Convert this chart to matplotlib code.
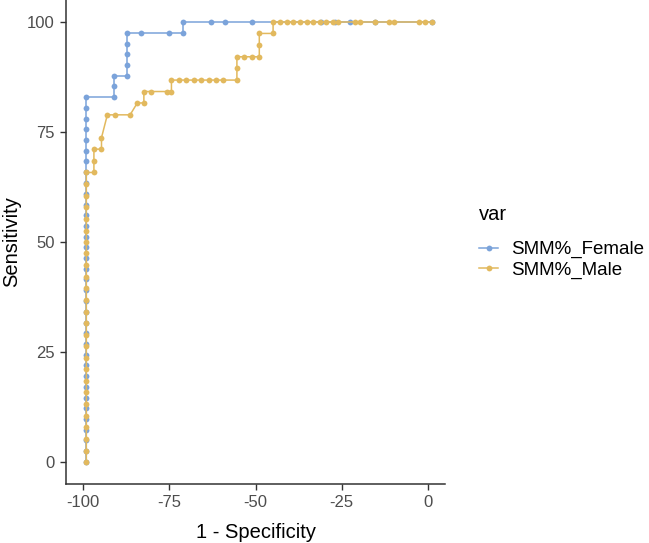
import matplotlib
matplotlib.use("Agg")
import matplotlib.pyplot as plt

plt.rcParams['font.family'] = ['Liberation Sans', 'DejaVu Sans']
plt.rcParams['axes.unicode_minus'] = False

# ROC points (x = 1 - specificity as drawn, y = sensitivity)
female_x = [-99.1, -99.1, -99.1, -99.1, -99.1, -99.1, -99.1, -99.1, -99.1, -99.1,
            -99.1, -99.1, -99.1, -99.1, -99.1, -99.1, -99.1, -99.1, -99.1, -99.1,
            -99.1, -99.1, -99.1, -99.1, -99.1, -99.1, -99.1, -99.1, -99.1, -99.1,
            -99.1, -99.1, -99.1, -99.1, -99.1,
            -91.0, -91.0, -91.0, -87.3, -87.3, -87.3, -87.3, -87.3,
            -83.1, -75.0, -70.9, -70.9, -63.0, -59.0, -51.0,
            -31.1, -26.8, -22.7, -15.3, 1.1]
female_y = [0.0, 2.4, 4.9, 7.3, 9.8, 12.2, 14.6, 17.1, 19.5, 22.0,
            24.4, 26.8, 29.3, 31.7, 34.1, 36.6, 39.0, 41.5, 43.9, 46.3,
            48.8, 51.2, 53.7, 56.1, 58.5, 61.0, 63.4, 65.9, 68.3, 70.7,
            73.2, 75.6, 78.0, 80.5, 82.9,
            82.9, 85.4, 87.8, 87.8, 90.2, 92.7, 95.1, 97.6,
            97.6, 97.6, 97.6, 100.0, 100.0, 100.0, 100.0,
            100.0, 100.0, 100.0, 100.0, 100.0]

male_x = [-99.1, -99.1, -99.1, -99.1, -99.1, -99.1, -99.1, -99.1, -99.1, -99.1,
          -99.1, -99.1, -99.1, -99.1, -99.1, -99.1, -99.1, -99.1, -99.1, -99.1,
          -99.1, -99.1, -99.1, -99.1, -99.1, -99.1,
          -96.9, -96.9, -96.9, -94.7, -94.7, -93.0, -90.7, -86.4,
          -84.3, -82.4, -82.4, -80.3, -75.8, -74.4, -74.4,
          -72.3, -70.1, -67.9, -65.7, -63.6, -61.6, -59.5, -55.4,
          -55.4, -55.4, -53.2, -51.0, -48.9, -48.9, -48.9, -44.9, -44.9,
          -42.8, -40.9, -39.0, -37.1, -35.2, -33.2, -31.3, -29.4, -27.5,
          -26.1, -21.0, -19.6, -15.3, -11.4, -9.8, -2.5, -0.7, 1.1]
male_y = [0.0, 2.6, 5.3, 7.9, 10.5, 13.2, 15.8, 18.4, 21.1, 23.7,
          26.3, 28.9, 31.6, 34.2, 36.8, 39.5, 42.1, 44.7, 47.4, 50.0,
          52.6, 55.3, 57.9, 60.5, 63.2, 65.8,
          65.8, 68.4, 71.1, 71.1, 73.7, 78.9, 78.9, 78.9,
          81.6, 81.6, 84.2, 84.2, 84.2, 84.2, 86.8,
          86.8, 86.8, 86.8, 86.8, 86.8, 86.8, 86.8, 86.8,
          89.5, 92.1, 92.1, 92.1, 92.1, 94.7, 97.4, 97.4, 100.0,
          100.0, 100.0, 100.0, 100.0, 100.0, 100.0, 100.0, 100.0, 100.0,
          100.0, 100.0, 100.0, 100.0, 100.0, 100.0, 100.0, 100.0, 100.0]

series_names = ['SMM%_Female', 'SMM%_Male']
series_colors = ['#7BA3DA', '#E2B95E']
x_ticks = [-100, -75, -50, -25, 0]
y_ticks = [0, 25, 50, 75, 100]

fig = plt.figure(figsize=(6.49, 5.43), dpi=100)
ax = fig.add_axes([0.1017, 0.1087, 0.5840, 0.8913])

for xs, ys, name, col in zip([female_x, male_x], [female_y, male_y],
                             series_names, series_colors):
    ax.plot(xs, ys, color=col, linewidth=1.1, marker='o', markersize=4.2,
            markeredgewidth=0, label=name, clip_on=False)

ax.set_xlim(-105, 5)
ax.set_ylim(-5, 105)
ax.set_xticks(x_ticks)
ax.set_yticks(y_ticks)
ax.tick_params(axis='both', labelsize=12, labelcolor='#4D4D4D', length=4,
               width=1, color='#333333', direction='out', pad=4)
for side in ['top', 'right']:
    ax.spines[side].set_visible(False)
for side in ['left', 'bottom']:
    ax.spines[side].set_linewidth(1.1)
    ax.spines[side].set_color('#333333')

ax.set_xlabel('1 - Specificity', fontsize=14.5, labelpad=9)
ax.set_ylabel('Sensitivity', fontsize=14.5, labelpad=4)

leg = ax.legend(title='var', loc='center left', bbox_to_anchor=(1.09, 0.5),
                frameon=False, fontsize=13.5, title_fontsize=14.5,
                handlelength=1.0, handletextpad=0.7, labelspacing=0.15,
                borderaxespad=0, borderpad=0)
leg._legend_box.align = 'left'
leg._legend_box.sep = 12

fig.savefig('out.png', dpi=100)
